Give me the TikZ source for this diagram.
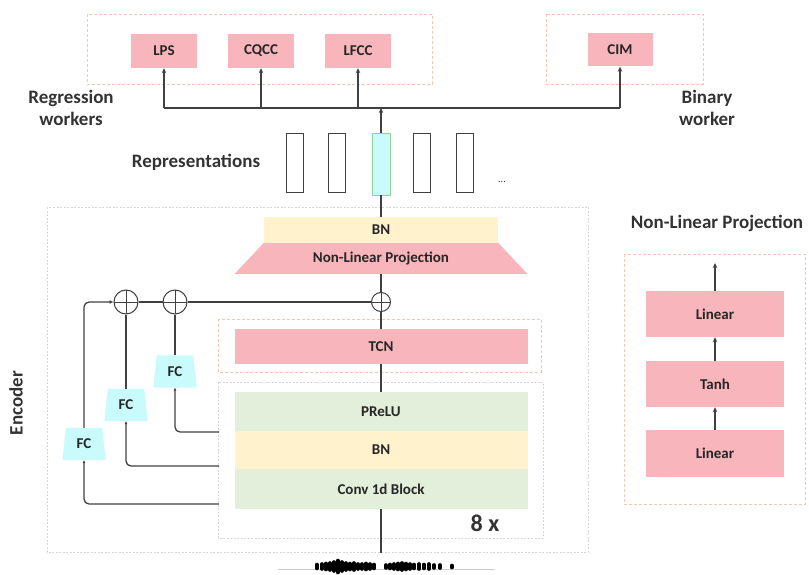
\documentclass[tikz,border=0pt]{standalone}
\usepackage{fontspec}
\setmainfont{Carlito}
\usepackage{xcolor}
\usepackage{tikz}
\usetikzlibrary{positioning,calc,arrows.meta,backgrounds}

\definecolor{pinkbox}{HTML}{F8B5BB}
\definecolor{yellowbox}{HTML}{FFF2CC}
\definecolor{greenbox}{HTML}{E2EFDA}
\definecolor{cyanbox}{HTML}{C9FAFC}
\definecolor{orangedash}{HTML}{F4C7AE}
\definecolor{graydash}{HTML}{D6D6D6}
\definecolor{linegray}{HTML}{404040}

\begin{document}
\begin{tikzpicture}[x=1pt,y=-1pt,
    lbl/.style={font=\fontsize{15}{15}\selectfont\bfseries, text=black!85},
    title/.style={font=\fontsize{19}{22}\selectfont\bfseries, text=black!80, align=center},
    block/.style={lbl, inner sep=0pt, anchor=center},
    pinkblock/.style={block, fill=pinkbox},
    repbox/.style={draw=linegray, line width=0.8pt, minimum width=17, minimum height=59, inner sep=0pt},
    fcnode/.style={lbl, minimum width=43, minimum height=32, inner sep=0pt},
    sumnode/.style={circle, draw=linegray, line width=1pt, inner sep=0pt,
        path picture={\draw[linegray, line width=1pt]
            (path picture bounding box.north) -- (path picture bounding box.south)
            (path picture bounding box.west) -- (path picture bounding box.east);}},
    conn/.style={draw=linegray, line width=1.3pt},
    up/.style={conn, -{Stealth[length=5pt,width=4.5pt]}},
    tap/.style={conn, rounded corners=5pt, -{Latex[length=3pt,width=3pt]}},
    odash/.style={draw=orangedash, line width=0.7pt, dash pattern=on 3pt off 2pt},
    gdash/.style={draw=graydash, line width=0.7pt, dash pattern=on 2pt off 1.5pt},
]
    \useasboundingbox (0,0) rectangle (809,575);

    % workers
    \draw[odash] (87,14) rectangle (432,84);
    \draw[odash] (546,14) rectangle (703,84);
    \node[pinkblock, minimum width=66, minimum height=34] (lps) at (164,51) {LPS};
    \node[pinkblock, minimum width=66, minimum height=34] (cqcc) at (261,51) {CQCC};
    \node[pinkblock, minimum width=66, minimum height=34] (lfcc) at (358,51) {LFCC};
    \node[pinkblock, minimum width=65, minimum height=33] (cim) at (620,50) {CIM};
    \node[title] (regtitle) at (71,108) {Regression\\workers};
    \node[title] (bintitle) at (707,108) {Binary\\worker};

    % representations
    \node[title] (reptitle) at (196,162) {Representations};
    \foreach \x/\n in {295/rep1, 337/rep2, 422/rep4, 465/rep5}
        \node[repbox] (\n) at (\x,163) {};
    \node[repbox, draw=green!45!gray!60, fill=cyanbox, minimum width=18, minimum height=62] (rep3) at (381,164) {};
    \node[lbl, font=\fontsize{10}{10}\selectfont] (dots) at (502,182) {...};

    \coordinate (bus) at (381,108);
    \draw[up] (rep3.north) -- (bus);
    \draw[conn] (lps.south |- bus) -- (cim.south |- bus);
    \foreach \w in {lps, cqcc, lfcc, cim}
        \draw[up] (\w.south |- bus) -- (\w.south);

    % encoder
    \draw[gdash] (47,207) rectangle (588,552);
    \node[title, rotate=90] (enctitle) at (16,403) {Encoder};
    \node[block, fill=yellowbox, minimum width=234, minimum height=26] (bntop) at (381,230) {BN};
    \node[block, minimum width=293, minimum height=31] (nlp) at (381,258.5) {Non-Linear Projection};
    \draw[conn] (bntop.north) -- (rep3.south);

    \node[sumnode, minimum size=24] (sum1) at (126,302) {};
    \node[sumnode, minimum size=24] (sum2) at (175,302) {};
    \node[sumnode, minimum size=19] (sum3) at (381,302) {};
    \draw[conn] (sum3.north) -- (nlp.south);

    % TCN
    \draw[odash] (218,319) rectangle (541,372);
    \node[pinkblock, minimum width=293, minimum height=35] (tcn) at (381,346.5) {TCN};
    \draw[conn] (tcn.north) -- (sum3.south);

    % repeated conv block
    \draw[gdash] (218,382) rectangle (543,538);
    \node[block, fill=greenbox, minimum width=293, minimum height=39] (prelu) at (381,411.5) {PReLU};
    \node[block, fill=yellowbox, minimum width=293, minimum height=38] (bnmid) at (381,450) {BN};
    \node[block, fill=greenbox, minimum width=293, minimum height=40] (conv) at (381,489) {Conv 1d Block};
    \node[title, font=\fontsize{24}{24}\selectfont\bfseries] (times) at (485,523) {8 x};
    \draw[conn] (prelu.north) -- (tcn.south);

    % skip connections
    \node[fcnode] (fc1) at (84,444) {FC};
    \node[fcnode] (fc2) at (126,405) {FC};
    \node[fcnode] (fc3) at (175,371.5) {FC};
    \coordinate (tap1) at (219,432);
    \coordinate (tap2) at (219,466);
    \coordinate (tap3) at (219,504);
    \draw[tap] (tap1) -| (fc3.south);
    \draw[tap] (tap2) -| (fc2.south);
    \draw[tap] (tap3) -| (fc1.south);
    \draw[conn, rounded corners=5pt, -{Latex[length=4pt,width=4pt]}] (fc1.north) |- (sum1.west);
    \draw[conn] (sum1.east) -- (sum2.west);
    \draw[conn] (sum2.east) -- (sum3.west);
    \draw[conn] (fc2.north) -- (sum1.south);
    \draw[conn] (fc3.north) -- (sum2.south);

    \begin{scope}[on background layer]
        \fill[pinkbox] (nlp.south west) -- (nlp.south east) -- ($(nlp.north east)+(-29.5,0)$) -- ($(nlp.north west)+(29.5,0)$) -- cycle;
        \foreach \f in {fc1, fc2, fc3}
            \fill[cyanbox] (\f.south west) -- (\f.south east) -- ($(\f.north east)+(-3.5,0)$) -- ($(\f.north west)+(3.5,0)$) -- cycle;
    \end{scope}

    % waveform input
    \coordinate (wave) at (381,553);
    \draw[conn] (wave) -- (conv.south);
    \draw[black!20, line width=0.4pt] (278,569) -- (495,569);
    \foreach \x/\h in {317/1.5, 322/2, 326/2.5, 330/3, 334/4, 338/5.5, 342/4, 346/3, 350/2.5, 354/3, 358/2, 362/2, 366/2.5, 370/2, 374/1.5,
                       386/1, 390/1.5, 394/2, 398/2.5, 402/3, 406/2.5, 410/2, 414/1.5, 419/2, 424/1.5, 429/2, 434/1, 440/1, 452/0.5}
        \draw[black, line width=3.6pt, line cap=round] (\x,{566-\h}) -- (\x,{567+\h});

    % non-linear projection detail
    \node[title] (nlptitle) at (717,223) {Non-Linear Projection};
    \draw[odash] (624,254) rectangle (805,504);
    \node[pinkblock, minimum width=138, minimum height=46] (lin2) at (715,314) {Linear};
    \node[pinkblock, minimum width=138, minimum height=46] (tanh) at (715,384) {Tanh};
    \node[pinkblock, minimum width=138, minimum height=47] (lin1) at (715,453.5) {Linear};
    \coordinate (nlpout) at (715,263);
    \draw[up] (lin1.north) -- (tanh.south);
    \draw[up] (tanh.north) -- (lin2.south);
    \draw[up] (lin2.north) -- (nlpout);
\end{tikzpicture}
\end{document}
